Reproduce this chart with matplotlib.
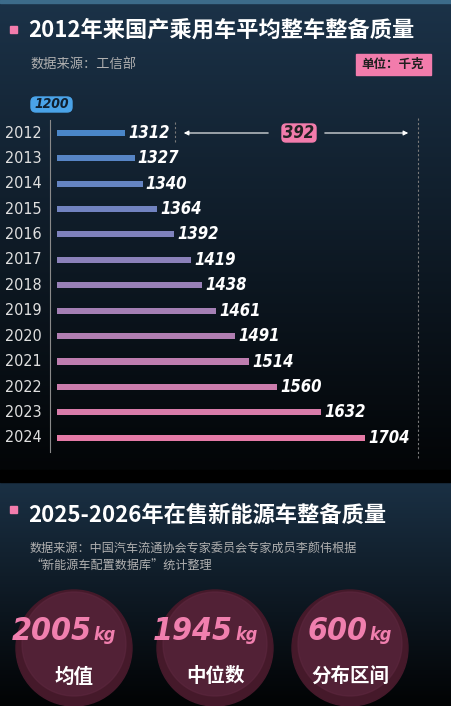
import numpy as np
import matplotlib
matplotlib.use("Agg")
import matplotlib.pyplot as plt
from matplotlib.patches import FancyBboxPatch, Circle, Rectangle
from matplotlib.colors import LinearSegmentedColormap, to_rgb

plt.rcParams['font.family'] = ['Noto Sans CJK SC', 'DejaVu Sans']
NUMF = 'DejaVu Sans'
ST = 'condensed'

years = ['2012','2013','2014','2015','2016','2017','2018','2019','2020','2021','2022','2023','2024']
weights = [1312,1327,1340,1364,1392,1419,1438,1461,1491,1514,1560,1632,1704]
diff_label = '392'
base_label = '1200'
stat_values = ['2005', '1945', '600']
stat_names = ['均值', '中位数', '分布区间']

W, H = 451, 706
fig = plt.figure(figsize=(W/100, H/100), dpi=100)
bg = fig.add_axes([0, 0, 1, 1])
bg.set_xlim(0, W); bg.set_ylim(H, 0); bg.axis('off')

def vgrad(y0, y1, c0, c1):
    g = np.linspace(0, 1, 200)[:, None]
    cm = LinearSegmentedColormap.from_list('g', [c0, c1])
    bg.imshow(g, cmap=cm, extent=[0, W, y1, y0], aspect='auto', zorder=0)

vgrad(0, 470, '#1b3248', '#030507')
bg.add_patch(Rectangle((0, 470), W, 12, color='#000000', zorder=1))
vgrad(482, 706, '#1a3044', '#020304')
bg.add_patch(Rectangle((0, 0), W, 3, color='#3c6b8a', zorder=2))

bg.add_patch(Rectangle((10, 26), 7, 7, color='#f27cac', zorder=3))
bg.text(28, 30, '2012年来国产乘用车平均整车整备质量', color='white', fontsize=16,
        fontweight='bold', va='center', zorder=3)
bg.text(30, 65, '数据来源：工信部', color='#b0b0b0', fontsize=9.5, va='center', zorder=3)
bg.add_patch(Rectangle((356, 54), 75, 21, color='#f27cac', zorder=3))
bg.text(393, 64.5, '单位：千克', color='#202020', fontsize=9, fontweight='bold',
        ha='center', va='center', zorder=3)

bg.add_patch(Rectangle((10, 506), 7, 7, color='#f27cac', zorder=3))
bg.text(28, 515, '2025-2026年在售新能源车整备质量', color='white', fontsize=16,
        fontweight='bold', va='center', zorder=3)
bg.text(30, 549, '数据来源：中国汽车流通协会专家委员会专家成员李颜伟根据', color='#b0b0b0',
        fontsize=8.7, va='center', zorder=3)
bg.text(30, 566, '“新能源车配置数据库”统计整理', color='#b0b0b0', fontsize=8.7,
        va='center', zorder=3)

centers = [74, 215, 350]
for cx, v, nm in zip(centers, stat_values, stat_names):
    bg.add_patch(Circle((cx, 648), 58, color='#45192a', zorder=2))
    bg.add_patch(Circle((cx, 644), 52, color='#5e2840', zorder=2, alpha=0.55))
    bg.text(cx + 18, 631, v, color='#f07fae', fontsize=23, fontweight='bold',
            fontstyle='italic', fontstretch=ST, ha='right', va='center', zorder=3, family=NUMF)
    bg.text(cx + 20, 635, 'kg', color='#f07fae', fontsize=13, fontweight='bold',
            fontstretch=ST, ha='left', va='center', zorder=3, family=NUMF, fontstyle='italic')
    bg.text(cx, 677, nm, color='white', fontsize=14, fontweight='bold', ha='center',
            va='center', zorder=3)

x0, x1, y0, y1 = 57, 420, 120, 451
ax = fig.add_axes([x0/W, 1 - y1/H, (x1 - x0)/W, (y1 - y0)/H])
ax.set_facecolor('none')
lo = 1200
scale = (365 - 57) / (1704 - lo)
ax.set_xlim(lo, lo + (x1 - x0) / scale)
n = len(years)
ax.set_ylim(n - 0.5 + 0.02, -0.5)
ax.axis('off')

c0, c1 = np.array(to_rgb('#4a86c8')), np.array(to_rgb('#e57aa6'))
for i, (y, w) in enumerate(zip(years, weights)):
    t = i / (n - 1)
    col = c0 * (1 - t) + c1 * t
    ax.barh(i, w - lo, left=lo, height=0.24, color=col)
    ax.text(w + 5, i, str(w), color='white', fontsize=12, fontweight='bold',
            fontstyle='italic', fontstretch=ST, va='center', ha='left', family=NUMF)
    bg.text(42, 133 + i * 25.4, y, color='#e0e0e0', fontsize=11.5, fontstretch=ST,
            va='center', ha='right', family=NUMF)

bg.plot([50, 50], [120, 452], color='#8a8a8a', lw=0.8, zorder=3)
bg.plot([175, 175], [122, 142], color='#7a7a7a', lw=0.8, ls=(0, (2, 2)), zorder=3)
bg.plot([418, 418], [118, 460], color='#7a7a7a', lw=0.8, ls=(0, (2, 2)), zorder=3)
bg.annotate('', xy=(181, 133), xytext=(271, 133),
            arrowprops=dict(arrowstyle='-|>', color='white', lw=0.8, mutation_scale=7), zorder=3)
bg.annotate('', xy=(411, 133), xytext=(322, 133),
            arrowprops=dict(arrowstyle='-|>', color='white', lw=0.8, mutation_scale=7), zorder=3)
bg.add_patch(FancyBboxPatch((282, 124), 34, 18, boxstyle='round,pad=0,rounding_size=4',
                            color='#f27cac', zorder=3))
bg.text(299, 133, diff_label, color='#222222', fontsize=12, fontweight='bold',
        fontstyle='italic', fontstretch=ST, ha='center', va='center', zorder=4, family=NUMF)
bg.add_patch(FancyBboxPatch((31, 97), 41, 15, boxstyle='round,pad=0,rounding_size=5',
                            color='#4aa3e8', zorder=3))
bg.text(51.5, 104.5, base_label, color='#102030', fontsize=10, fontweight='bold',
        fontstyle='italic', fontstretch=ST, ha='center', va='center', zorder=4, family=NUMF)

fig.savefig('out.png', dpi=100, facecolor='black')
